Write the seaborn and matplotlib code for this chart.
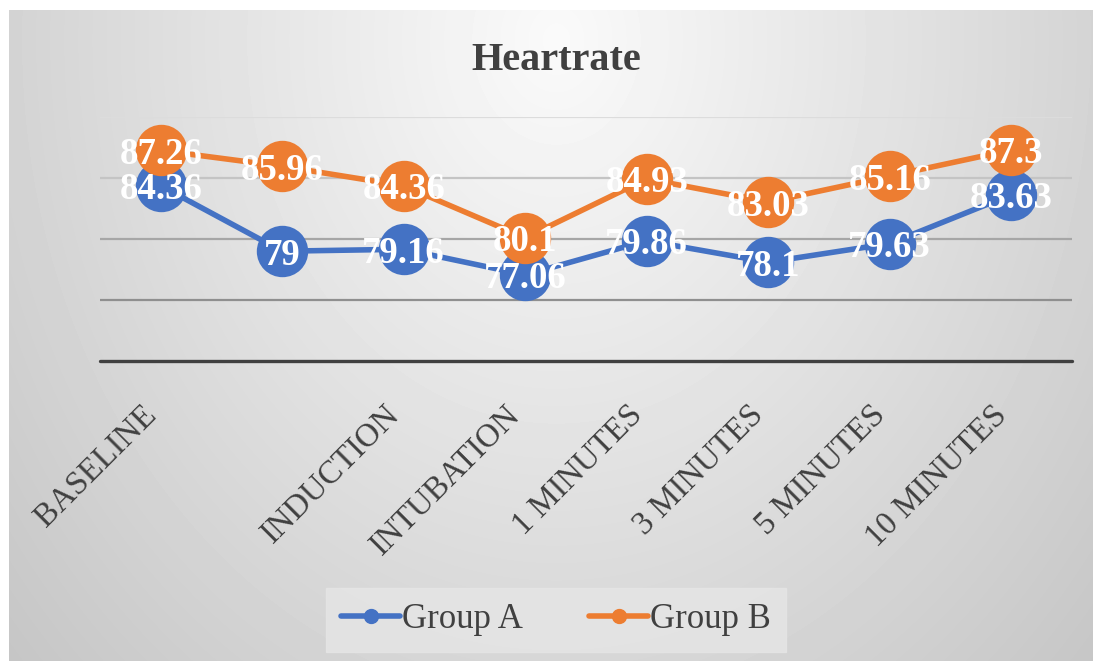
import numpy as np
import pandas as pd
import matplotlib
matplotlib.use("Agg")
import matplotlib.pyplot as plt
import matplotlib.transforms as mtransforms
import seaborn as sns

# Heart rate at each stage for the two groups
stages = ["BASELINE", "", "INDUCTION", "INTUBATION", "1 MINUTES", "3 MINUTES", "5 MINUTES", "10 MINUTES"]
group_a = [84.36, 79, 79.16, 77.06, 79.86, 78.1, 79.63, 83.63]
group_b = [87.26, 85.96, 84.36, 80.1, 84.93, 83.03, 85.16, 87.3]
groups = ["Group A", "Group B"]
colors = ["#4472C4", "#ED7D31"]
y_ticks = [70, 75, 80, 85, 90]

sns.set_theme(style="white")
plt.rcParams["font.family"] = ["Liberation Serif", "DejaVu Serif"]

df = pd.DataFrame({
    "stage": stages * 2,
    "hr": group_a + group_b,
    "group": [groups[0]] * len(stages) + [groups[1]] * len(stages),
})

W, H = 1093, 661
fig = plt.figure(figsize=(W / 100, H / 100), dpi=100, facecolor="white")

# soft radial grey background
bg = fig.add_axes([9 / W, 0, 1 - 9 / W, 1 - 10 / H], zorder=-5)
xx, yy = np.meshgrid(np.arange(W - 9), np.arange(H - 10))
d = np.sqrt(((xx - 547) / 565.0) ** 2 + ((yy - 30) / 700.0) ** 2)
shade = np.clip(250 - 40 * d, 180, 252) / 255.0
bg.imshow(shade, cmap="gray", vmin=0, vmax=1, aspect="auto", interpolation="bilinear")
bg.set_axis_off()

ax = fig.add_axes([100 / W, (H - 361) / H, 972 / W, 244 / H])
ax.set_facecolor("none")

sns.pointplot(
    data=df, x="stage", y="hr", hue="group", order=stages, hue_order=groups,
    palette=colors, markers="o", markersize=34, linewidth=4,
    errorbar=None, ax=ax, legend=False,
)
for coll in ax.collections:
    coll.set_zorder(4)
for ln in ax.lines:
    ln.set_zorder(4)
    ln.set_clip_on(False)

ax.set_xlim(-0.5, len(stages) - 0.5)
ax.set_ylim(y_ticks[0], y_ticks[-1])

# horizontal gridlines
grid_colors = {75: "#8f8f8f", 80: "#a6a6a6", 85: "#c4c4c4", 90: "#dcdcdc"}
for yv, gc in grid_colors.items():
    ax.axhline(yv, color=gc, lw=1.6, zorder=1)
ax.axhline(y_ticks[0], color="#404040", lw=2.4, zorder=2, clip_on=False)

for s in ax.spines.values():
    s.set_visible(False)
ax.set_yticks([])
ax.set_xlabel("")
ax.set_ylabel("")
ax.set_xticks(range(len(stages)))
ax.set_xticklabels(stages, rotation=45, ha="right", rotation_mode="anchor",
                   fontsize=23.5, color="#404040")
ax.tick_params(axis="x", length=0, pad=28)
shift = mtransforms.ScaledTranslation(-0.2, 0, fig.dpi_scale_trans)
for lab in ax.get_xticklabels():
    lab.set_transform(lab.get_transform() + shift)

# value labels on the markers
for vals in (group_a, group_b):
    for i, v in enumerate(vals):
        ax.text(i, v, f"{v:g}", ha="center", va="center_baseline", color="white",
                fontsize=26.5, fontweight="bold", zorder=6, clip_on=False)

fig.text(556 / W, 1 - 60 / H, "Heartrate", ha="center", va="center",
         fontsize=29, fontweight="bold", color="#404040")

handles = [
    plt.Line2D([], [], color=c, lw=4, marker="o", markersize=10) for c in colors
]
leg = fig.legend(handles, groups, loc="center", bbox_to_anchor=(556 / W, 1 - 620 / H),
                 ncol=2, frameon=True, fontsize=25, handlelength=1.7,
                 handletextpad=0.05, columnspacing=1.9, borderpad=0.15)
leg.get_frame().set_facecolor("#e6e6e6")
leg.get_frame().set_edgecolor("#e6e6e6")
leg.get_frame().set_boxstyle("square", pad=0.3)
for t in leg.get_texts():
    t.set_color("#404040")

fig.savefig("out.png", dpi=100, facecolor=fig.get_facecolor())
